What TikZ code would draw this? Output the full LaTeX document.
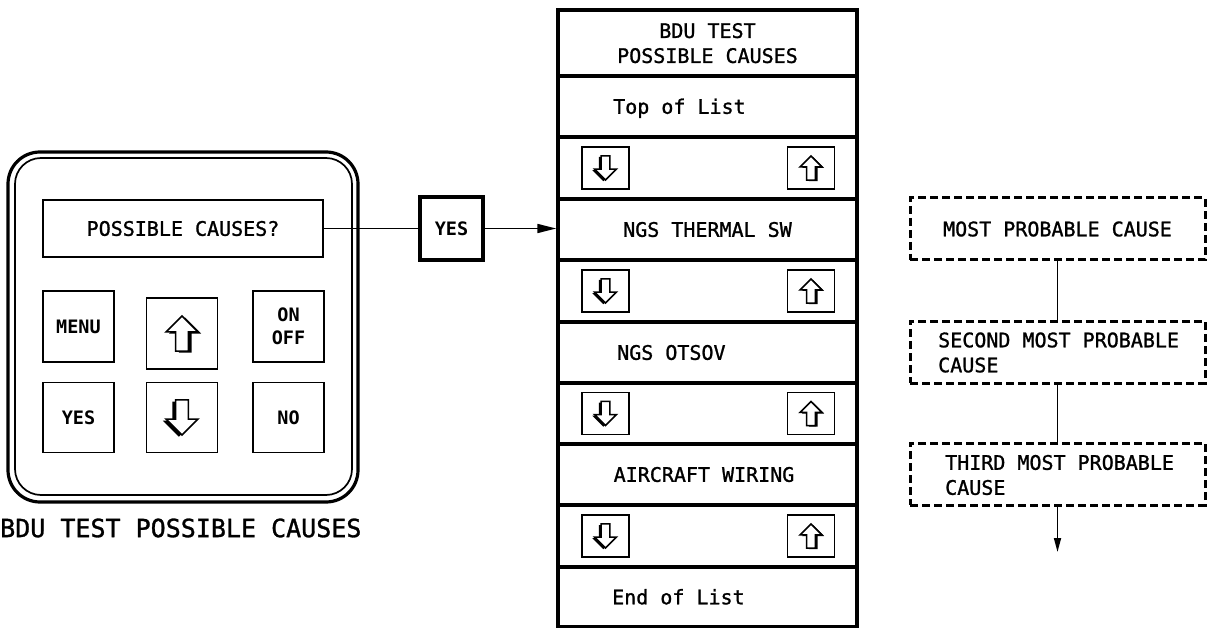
\documentclass[tikz,border=0pt]{standalone}
\usepackage{fontspec}
\setmonofont{DejaVu Sans Mono}
\newfontfamily\heavymono{DejaVu Sans Mono}[FakeBold=1.2]
\usetikzlibrary{arrows.meta}
\tikzset{
  txt/.style={font=\heavymono\fontsize{20}{25}\selectfont, inner sep=0pt, text height=14.6pt, text depth=0pt},
  mtxt/.style={font=\heavymono\fontsize{20}{25}\selectfont, inner sep=0pt, align=left},
  btxt/.style={font=\ttfamily\bfseries\fontsize{18.5}{23}\selectfont, inner sep=0pt, align=center},
  button/.style={draw, line width=1.8pt, minimum width=71pt, minimum height=71pt, btxt},
  rowbox/.style={draw, line width=3.4pt, minimum width=299pt, txt},
  kbox/.style={draw, line width=1.6pt, minimum width=47pt, minimum height=42pt, inner sep=0pt},
  dbox/.style={draw, line width=3pt, dash pattern=on 8pt off 4pt, minimum width=295pt, minimum height=62pt, txt},
  conn/.style={line width=1.7pt},
  uparr/.pic={
    \fill[xshift=0.1pt, yshift=-0.05pt] (0,-0.55) -- (0.5,-0.05) -- (0.2,-0.05) -- (0.2,0.55) -- (-0.2,0.55) -- (-0.2,-0.05) -- (-0.5,-0.05) -- cycle;
    \draw[fill=white, line width=1.6pt, line join=miter] (0,-0.55) -- (0.5,-0.05) -- (0.2,-0.05) -- (0.2,0.55) -- (-0.2,0.55) -- (-0.2,-0.05) -- (-0.5,-0.05) -- cycle;
  },
  dnarr/.pic={
    \fill[xshift=-0.1pt, yshift=-0.05pt] (0,0.55) -- (0.5,0.05) -- (0.2,0.05) -- (0.2,-0.55) -- (-0.2,-0.55) -- (-0.2,0.05) -- (-0.5,0.05) -- cycle;
    \draw[fill=white, line width=1.6pt, line join=miter] (0,0.55) -- (0.5,0.05) -- (0.2,0.05) -- (0.2,-0.55) -- (-0.2,-0.55) -- (-0.2,0.05) -- (-0.5,0.05) -- cycle;
  }
}
\begin{document}
\begin{tikzpicture}[x=1pt, y=-1pt]
\useasboundingbox (0,0) rectangle (1207,628);

% left control panel
\node[draw, line width=3.2pt, rounded corners=32pt, minimum width=350pt, minimum height=350pt] (panel) at (183,327) {};
\node[draw, line width=1.7pt, rounded corners=26pt, minimum width=337pt, minimum height=337pt] (panelin) at (183.5,326.5) {};
\node[draw, line width=1.8pt, minimum width=280pt, minimum height=57pt, txt] (pc) at (183,228.5) {POSSIBLE CAUSES?};
\node[button] (menu) at (78.5,326.5) {MENU};
\node[button] (upbtn) at (182,333.5) {};
\node[button] (onoff) at (288.5,326.5) {ON\\OFF};
\node[button, minimum height=70pt] (yesbtn) at (78.5,417.5) {YES};
\node[button, minimum height=70pt] (dnbtn) at (182,417.5) {};
\node[button, minimum height=70pt] (nobtn) at (288.5,417.5) {NO};
\pic[scale=32] at (upbtn) {uparr};
\pic[scale=32] at (dnbtn) {dnarr};
\node[font=\heavymono\fontsize{25}{30}\selectfont, anchor=west, inner sep=0pt] (cap) at (0,528) {BDU TEST POSSIBLE CAUSES};

% YES key
\node[draw, line width=3.2pt, minimum width=63pt, minimum height=63pt, btxt] (yesm) at (451.5,228.5) {YES};

% middle column
\node[rowbox, minimum height=66pt, align=center, text height=] (r0) at (707.5,43) {BDU TEST\\POSSIBLE CAUSES};
\node[rowbox, minimum height=61pt] (r1) at (707.5,106.5) {};
\node[rowbox, minimum height=62pt] (r2) at (707.5,168) {};
\node[rowbox, minimum height=61pt] (r3) at (707.5,229.5) {NGS THERMAL SW};
\node[rowbox, minimum height=62pt] (r4) at (707.5,291) {};
\node[rowbox, minimum height=61pt] (r5) at (707.5,352.5) {};
\node[rowbox, minimum height=61pt] (r6) at (707.5,413.5) {};
\node[rowbox, minimum height=61pt] (r7) at (707.5,474.5) {};
\node[rowbox, minimum height=62pt] (r8) at (707.5,536) {};
\node[rowbox, minimum height=60pt] (r9) at (707.5,597) {};
\node[txt, anchor=west] (top) at (613,106.5) {Top of List};
\node[txt, anchor=west] (otsov) at (617,352.5) {NGS OTSOV};
\node[txt] (wiring) at (704,474.5) {AIRCRAFT WIRING};
\node[txt, anchor=west] (endl) at (612,597) {End of List};

\foreach \r in {r2,r4,r6,r8} {
  \node[kbox] (\r dn) at (605.5,0 |- \r) {};
  \node[kbox] (\r up) at (811,0 |- \r) {};
  \pic[scale=22] at (\r dn) {dnarr};
  \pic[scale=22] at (\r up) {uparr};
}

% connectors
\draw[conn] (pc.east) -- (yesm.west);
\draw[conn, -{Triangle[length=19pt,width=9pt]}] (yesm.east) -- (yesm.east -| r3.west);

% right dashed boxes
\node[dbox] (b1) at (1057.5,229) {MOST PROBABLE CAUSE};
\node[dbox] (b2) at (1057.5,352) {};
\node[dbox] (b3) at (1057.5,474) {};
\node[mtxt, anchor=west] (t2) at (938,352.5) {SECOND MOST PROBABLE\\CAUSE};
\node[mtxt, anchor=west] (t3) at (945,475) {THIRD MOST PROBABLE\\CAUSE};
\coordinate (tail) at (1057.5,552);
\draw[conn] (b1.south) -- (b2.north);
\draw[conn] (b2.south) -- (b3.north);
\draw[conn, -{Triangle[length=14pt,width=7pt]}] (b3.south) -- (tail);
\end{tikzpicture}
\end{document}
